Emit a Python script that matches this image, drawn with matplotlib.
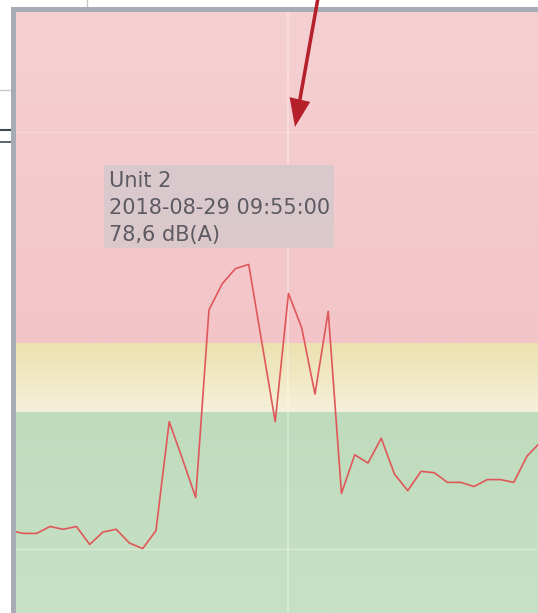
import matplotlib
matplotlib.use('Agg')
import matplotlib.pyplot as plt
import numpy as np
from matplotlib.patches import Rectangle, FancyArrow

W, H = 538, 613

# noise level samples (dB(A)), one every 5 minutes
levels = [61.4, 61.2, 61.2, 61.7, 61.5, 61.7, 60.4, 61.3, 61.5, 60.5, 60.1,
          61.4, 69.3, 66.6, 63.8, 77.4, 79.3, 80.4, 80.7, 75.0, 69.3,
          78.6, 76.1, 71.3, 77.3, 64.1, 66.9, 66.3, 68.1, 65.5, 64.3,
          65.7, 65.6, 64.9, 64.9, 64.6, 65.1, 65.1, 64.9, 66.8, 67.8]
start_idx = -1
warn_level = 70.0
alarm_level = 75.0
tooltip_lines = ['Unit 2', '2018-08-29 09:55:00', '78,6 dB(A)']


def fx(px):
    return px / W


def fy(py):
    return 1 - py / H


def band(ax, lo, hi, top_hex, bot_hex):
    top_c = np.array(matplotlib.colors.to_rgb(top_hex))
    bot_c = np.array(matplotlib.colors.to_rgb(bot_hex))
    t = np.linspace(0, 1, 64)[:, None, None]
    img = top_c * (1 - t) + bot_c * t
    ax.imshow(img, extent=[-0.56, 38.83, lo, hi], aspect='auto',
              origin='upper', zorder=0, interpolation='bilinear')


fig = plt.figure(figsize=(W / 100, H / 100), dpi=100)
fig.patch.set_facecolor('white')

# window decoration bits left of / above the chart
fig.add_artist(plt.Line2D([fx(0), fx(11)], [fy(90), fy(90)], color='#c8c8c8', lw=1, zorder=-2))
fig.add_artist(plt.Line2D([fx(0), fx(11)], [fy(130), fy(130)], color='#3d4b52', lw=1.5, zorder=-2))
fig.add_artist(plt.Line2D([fx(0), fx(11)], [fy(142), fy(142)], color='#3d4b52', lw=1.2, zorder=-2))
fig.add_artist(plt.Line2D([fx(87), fx(87)], [fy(0), fy(7)], color='#c8c8c8', lw=1, zorder=-2))
fig.add_artist(Rectangle((fx(11), 0), 1 - fx(11), fy(7), color='#a7abb6', lw=0, zorder=-1))

ax = fig.add_axes([fx(16), 0, 1 - fx(16), fy(12)])
ax.set_zorder(0)
x = np.arange(len(levels)) + start_idx
ymin, ymax = 55.43, 99.0

# zone bands
band(ax, alarm_level, ymax, '#f5d0d2', '#f3c5c8')
band(ax, warn_level, alarm_level, '#ece1b0', '#f5f0da')
band(ax, ymin, warn_level, '#bfdbbc', '#c7e1c5')
ax.set_xlim(-0.56, 38.83)
ax.set_ylim(ymin, ymax)

# faint grid lines
ax.axvline(19.95, color='white', alpha=0.35, lw=1.2, zorder=1)
ax.axhline(90.3, color='white', alpha=0.25, lw=1, zorder=1)
ax.axhline(60.1, color='white', alpha=0.35, lw=1, zorder=1)

ax.plot(x, levels, color='#e0575a', lw=1.2, zorder=3)

for s in ax.spines.values():
    s.set_visible(False)
ax.set_xticks([])
ax.set_yticks([])

# tooltip
fig.add_artist(Rectangle((fx(104), fy(248)), fx(334) - fx(104), fy(165) - fy(248),
                         facecolor='#d9c9cc', edgecolor='none', alpha=0.95, zorder=5))
for i, line in enumerate(tooltip_lines):
    fig.text(fx(109), fy(181 + 27 * i), line, fontsize=15, color='#5d5a63',
             va='center', ha='left', family='DejaVu Sans', zorder=6)

# annotation arrow
fig.add_artist(FancyArrow(fx(318), fy(-2), fx(295) - fx(318), fy(127) - fy(-2),
                          width=4 / H, head_width=21 / W, head_length=28 / H,
                          length_includes_head=True, color='#b5202a', lw=0,
                          transform=fig.transFigure, zorder=6))

fig.savefig('out.png', dpi=100)
